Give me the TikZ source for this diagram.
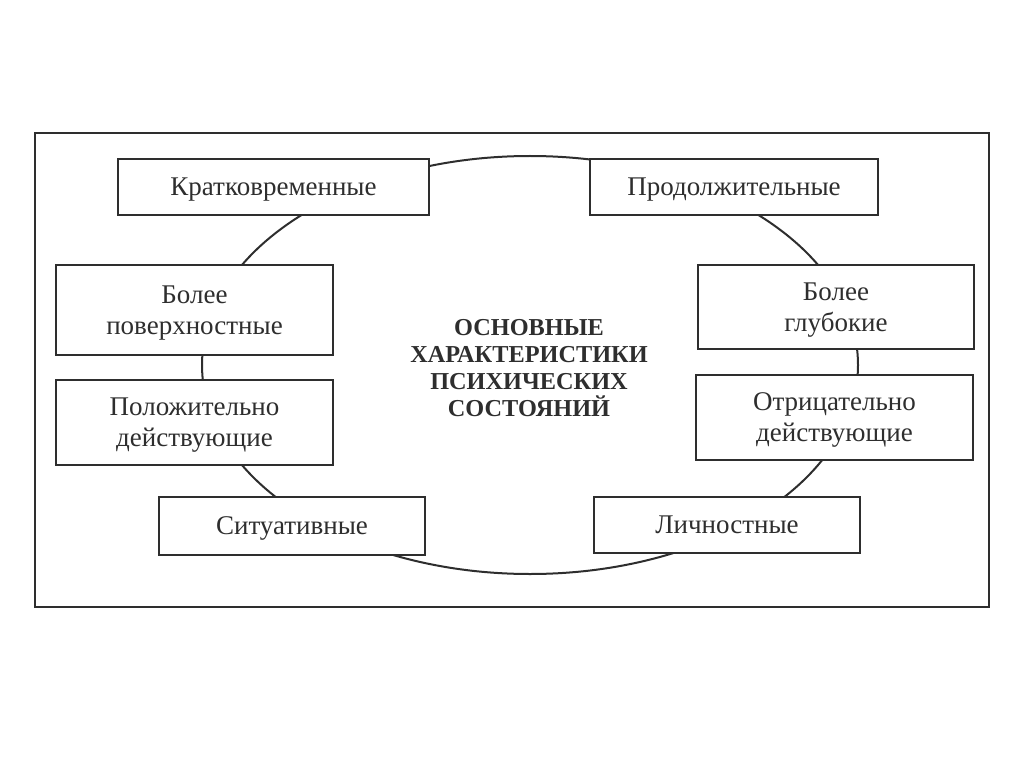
\documentclass[tikz,border=0pt]{standalone}
\usepackage{fontspec}
\setmainfont{Liberation Serif}
\usetikzlibrary{shapes.geometric}
\definecolor{ink}{HTML}{2E2E2E}
\tikzset{
  frame/.style={draw=ink, line width=2.2pt},
  ring/.style={draw=ink, line width=2pt, ellipse, inner sep=0pt},
  box/.style={draw=ink, line width=2.2pt, fill=white, rectangle, inner sep=0pt,
    align=center, text=ink, text depth=0pt, font=\fontsize{27}{31}\selectfont},
  title/.style={align=center, text=ink, font=\fontsize{24.3}{27}\selectfont\bfseries}
}
\begin{document}
\begin{tikzpicture}[x=1pt,y=-1pt]
\useasboundingbox (0,0) rectangle (1024,767);
\node[frame, minimum width=954pt, minimum height=474pt, inner sep=0pt] (outer) at (512,370) {};
\node[ring, minimum width=656pt, minimum height=418pt] (ring) at (530,365) {};
\node[box, minimum width=311pt, minimum height=56pt] (kr) at (273.5,187) {Кратковременные};
\node[box, minimum width=288pt, minimum height=56pt] (pr) at (734,187) {Продолжительные};
\node[box, minimum width=277pt, minimum height=90pt] (bp) at (194.5,310) {Более\\поверхностные};
\node[box, minimum width=276pt, minimum height=84pt] (bg) at (836,307) {Более\\глубокие};
\node[box, minimum width=277pt, minimum height=85pt] (po) at (194.5,422.5) {Положительно\\действующие};
\node[box, minimum width=277pt, minimum height=85pt] (ot) at (834.5,417.5) {Отрицательно\\действующие};
\node[box, minimum width=266pt, minimum height=58pt] (si) at (292,526) {Ситуативные};
\node[box, minimum width=266pt, minimum height=56pt] (li) at (727,525) {Личностные};
\node[title, text depth=0pt] (t) at (529,368) {ОСНОВНЫЕ\\ХАРАКТЕРИСТИКИ\\ПСИХИЧЕСКИХ\\СОСТОЯНИЙ};
\end{tikzpicture}
\end{document}
